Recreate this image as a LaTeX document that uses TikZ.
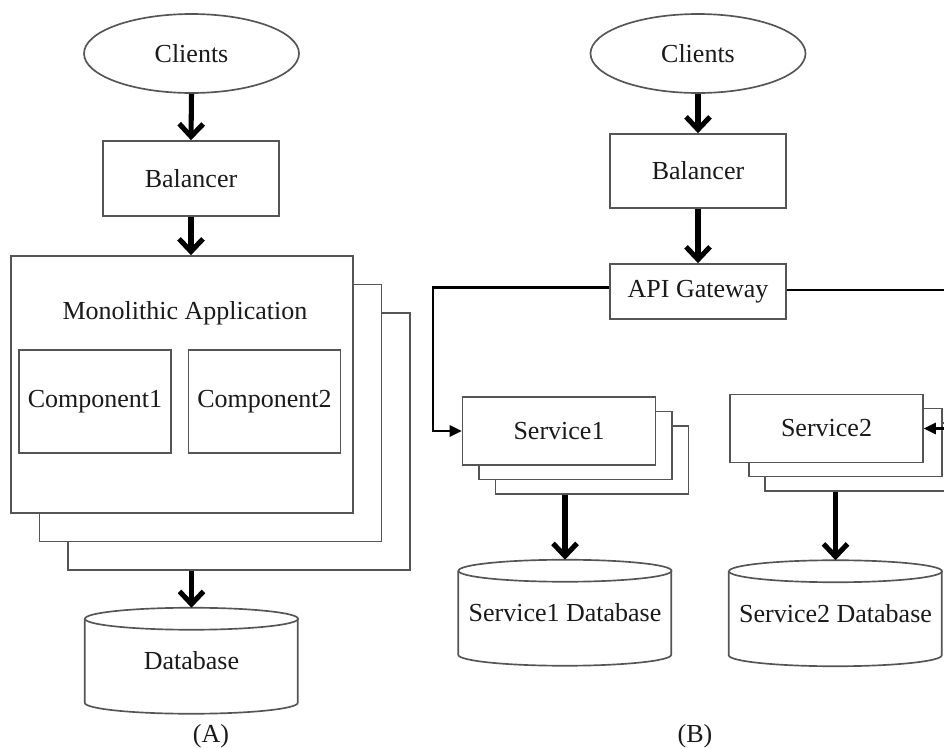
\documentclass[tikz,border=0pt]{standalone}
\usepackage{fontspec}
\setmainfont{Liberation Serif}
\usetikzlibrary{shapes.geometric,arrows.meta,calc}
\definecolor{edge}{HTML}{555555}
\definecolor{ink}{HTML}{1A1A1A}
\newcommand\dbcyl[1]{%
  \draw[cyl] ($(#1.north west)+(0,11)$) -- ++(0,84)
    arc[start angle=180,end angle=360,x radius=79.875pt,y radius=8.25pt] -- ++(0,-84);
  \draw[cyl] ($(#1.north)+(0,11)$) ellipse[x radius=79.875pt,y radius=8.25pt];}
\begin{document}
\begin{tikzpicture}[x=0.75pt,y=-0.75pt,
  font=\fontsize{19.5}{23}\selectfont, text=ink,
  box/.style={draw=edge, line width=1.25pt, fill=white, inner sep=0pt},
  cyl/.style={draw=edge, line width=1.25pt, fill=white},
  oval/.style={ellipse, draw=edge, line width=1.25pt, fill=white, inner sep=0pt,
    minimum width=215*0.75pt, minimum height=79*0.75pt},
  bal/.style={box, minimum width=176*0.75pt, minimum height=75*0.75pt},
  mono/.style={box, minimum width=342*0.75pt, minimum height=257*0.75pt},
  comp/.style={box, minimum width=152*0.75pt, minimum height=103*0.75pt},
  svc/.style={box, minimum width=193*0.75pt, minimum height=68*0.75pt},
  dbnode/.style={inner sep=0pt, minimum width=213*0.75pt, minimum height=106*0.75pt},
  bigarrow/.style={line width=3.8pt, -{Straight Barb[length=9.5pt,width=18pt]}},
  link/.style={line width=1.6pt, -{Triangle[length=9pt,width=8.5pt]}},
  caption/.style={inner sep=0pt}]
\useasboundingbox (0,0) rectangle (944,747);
\clip (0,0) rectangle (944,747);
\fill[white] (0,0) rectangle (944,747);

% ---------- (A) ----------
\node[oval] (cA) at (191.5,53.5) {Clients};
\node[bal] (bA) at (191,178.5) {Balancer};
\node[mono] (m3) at (239,441.5) {};
\node[mono] (m2) at (210.5,413) {};
\node[mono] (mA) at (182,384.5) {};
\node[caption] (mt) at (185,313) {Monolithic Application};
\node[comp] (c1) at (95,401.5) {Component1};
\node[comp] (c2) at (264.5,401.5) {Component2};
\node[dbnode] (db) at (191.5,661) {};
\dbcyl{db}
\node[caption] (dbt) at (db.center) {Database};
\node[caption] (capA) at (211,736) {(A)};

\draw[bigarrow] (cA.south) -- (bA.north);
\draw[bigarrow] (bA.south) -- (bA.south |- mA.north);
\draw[bigarrow] (db.north |- m3.south) -- (db.north);

% ---------- (B) ----------
\node[oval] (cB) at (698,53.5) {Clients};
\node[bal, minimum height=74*0.75pt] (bB) at (698,171) {Balancer};
\node[bal, minimum height=55*0.75pt] (gw) at (698,291.5) {API Gateway};

\node[svc] (s1c) at (592,460) {};
\node[svc] (s1b) at (575.5,445.5) {};
\node[svc] (s1) at (559,431) {Service1};
\node[svc] (s2c) at (861.5,457) {};
\node[svc] (s2b) at (845.5,442.5) {};
\node[svc] (s2) at (826.5,428.5) {Service2};

\node[dbnode] (s1db) at (565,613) {};
\dbcyl{s1db}
\node[caption] (s1dbt) at (s1db.center) {Service1 Database};
\node[dbnode] (s2db) at (835.5,613.5) {};
\dbcyl{s2db}
\node[caption] (s2dbt) at (s2db.center) {Service2 Database};
\node[caption] (capB) at (695,736) {(B)};

\draw[bigarrow] (cB.south) -- (bB.north);
\draw[bigarrow] (bB.south) -- (gw.north);
\draw[bigarrow] (s1db.north |- s1c.south) -- (s1db.north);
\draw[bigarrow] (s2db.north |- s2c.south) -- (s2db.north);

\coordinate (ll) at (433,0);
\coordinate (rr) at (952,0);
\draw[link] ([yshift=3pt]gw.west) -- ([yshift=3pt]gw.west -| ll) |- (s1.west);
\draw[link] ([yshift=1pt]gw.east) -- ([yshift=1pt]gw.east -| rr) |- (s2.east);
\end{tikzpicture}
\end{document}
